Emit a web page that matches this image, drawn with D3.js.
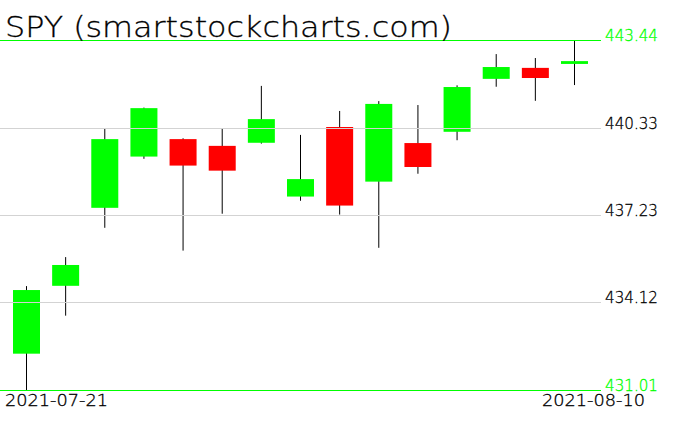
<!DOCTYPE html>
<html>
<head>
<meta charset="utf-8">
<script src="https://cdn.jsdelivr.net/npm/d3@7"></script>
<style>
  body { margin: 0; background: #fff; }
  svg { display: block; }
</style>
</head>
<body>
<svg width="676" height="431"></svg>
<script>
var width = 676;
var height = 431;

// daily candles
var dates = ["2021-07-21", "2021-07-22", "2021-07-23", "2021-07-26", "2021-07-27",
    "2021-07-28", "2021-07-29", "2021-07-30", "2021-08-02", "2021-08-03",
    "2021-08-04", "2021-08-05", "2021-08-06", "2021-08-09", "2021-08-10"];
var opens = [432.30, 434.71, 437.48, 439.30, 439.92, 439.68, 439.79, 437.88, 440.35, 438.41, 439.78, 440.18, 442.06, 442.45, 442.59];
var closes = [434.56, 435.45, 439.92, 441.02, 438.98, 438.80, 440.63, 438.50, 437.56, 441.17, 438.93, 441.77, 442.48, 442.09, 442.69];
var highs = [434.70, 435.73, 440.28, 441.04, 439.95, 440.31, 441.81, 440.07, 440.92, 441.27, 441.13, 441.83, 442.94, 442.80, 443.44];
var lows = [431.01, 433.65, 436.77, 439.22, 435.96, 437.27, 439.76, 437.73, 437.24, 436.06, 438.69, 439.88, 441.78, 441.28, 441.84];
var yTicks = [443.44, 440.33, 437.23, 434.12, 431.01];
var xLabels = ["2021-07-21", "2021-08-10"];

var data = dates.map(function (d, i) {
    return { date: d, open: opens[i], close: closes[i], high: highs[i], low: lows[i] };
});

var svg = d3.select('svg');

var x = d3.scalePoint().domain(dates).range([26.5, 574.5]);
var y = d3.scaleLinear().domain([431.01, 443.44]).range([390, 40]);
var bodyWidth = 27;

function isEdge(i) { return i == 0 || i == yTicks.length - 1; }

// wicks
svg.selectAll(".wick")
    .data(data)
    .enter()
    .append("line")
    .attr("class", "wick")
    .attr("x1", function (d) { return x(d.date); })
    .attr("x2", function (d) { return x(d.date); })
    .attr("y1", function (d) { return y(d.high); })
    .attr("y2", function (d) { return y(d.low); })
    .attr("stroke", "#000")
    .attr("stroke-width", 1);

// bodies
svg.selectAll(".body")
    .data(data)
    .enter()
    .append("rect")
    .attr("class", "body")
    .attr("x", function (d) { return x(d.date) - bodyWidth / 2; })
    .attr("width", bodyWidth)
    .attr("y", function (d) { return y(Math.max(d.open, d.close)); })
    .attr("height", function (d) { return Math.max(2, Math.abs(y(d.open) - y(d.close))); })
    .attr("fill", function (d) { return d.close >= d.open ? "#00ff00" : "#ff0000"; });

// grid lines, drawn over the candles
svg.selectAll(".grid")
    .data(yTicks)
    .enter()
    .append("line")
    .attr("class", "grid")
    .attr("x1", 0)
    .attr("x2", 601)
    .attr("y1", function (d) { return Math.round(y(d)) + 0.5; })
    .attr("y2", function (d) { return Math.round(y(d)) + 0.5; })
    .attr("stroke", function (d, i) { return isEdge(i) ? "#00ff00" : "#d3d3d3"; })
    .attr("stroke-width", 1);

// y labels
svg.selectAll(".ylabel")
    .data(yTicks)
    .enter()
    .append("text")
    .attr("class", "ylabel")
    .attr("x", 605)
    .attr("y", function (d) { return y(d) + 1; })
    .attr("font-family", "DejaVu Sans")
    .attr("font-weight", 200)
    .attr("font-size", "15px")
    .attr("textLength", 53)
    .attr("lengthAdjust", "spacingAndGlyphs")
    .attr("fill", function (d, i) { return isEdge(i) ? "#00ff00" : "#000"; })
    .attr("stroke", function (d, i) { return isEdge(i) ? "#00ff00" : "#000"; })
    .attr("stroke-width", 0.3)
    .text(function (d) { return d.toFixed(2); });

// x labels, first and last date
svg.selectAll(".xlabel")
    .data(xLabels)
    .enter()
    .append("text")
    .attr("class", "xlabel")
    .attr("x", function (d, i) { return i == 0 ? 5 : 542; })
    .attr("y", 406)
    .attr("font-family", "DejaVu Sans")
    .attr("font-weight", 200)
    .attr("font-size", "15px")
    .attr("textLength", 103)
    .attr("lengthAdjust", "spacingAndGlyphs")
    .attr("fill", "#000")
    .attr("stroke", "#000")
    .attr("stroke-width", 0.3)
    .text(function (d) { return d; });

// title
svg.append("text")
    .attr("x", 5)
    .attr("y", 37)
    .attr("font-family", "DejaVu Sans")
    .attr("font-weight", 200)
    .attr("font-size", "28px")
    .attr("textLength", 447)
    .attr("lengthAdjust", "spacingAndGlyphs")
    .attr("fill", "#000")
    .attr("stroke", "#000")
    .attr("stroke-width", 0.3)
    .text("SPY (smartstockcharts.com)");
</script>
</body>
</html>
